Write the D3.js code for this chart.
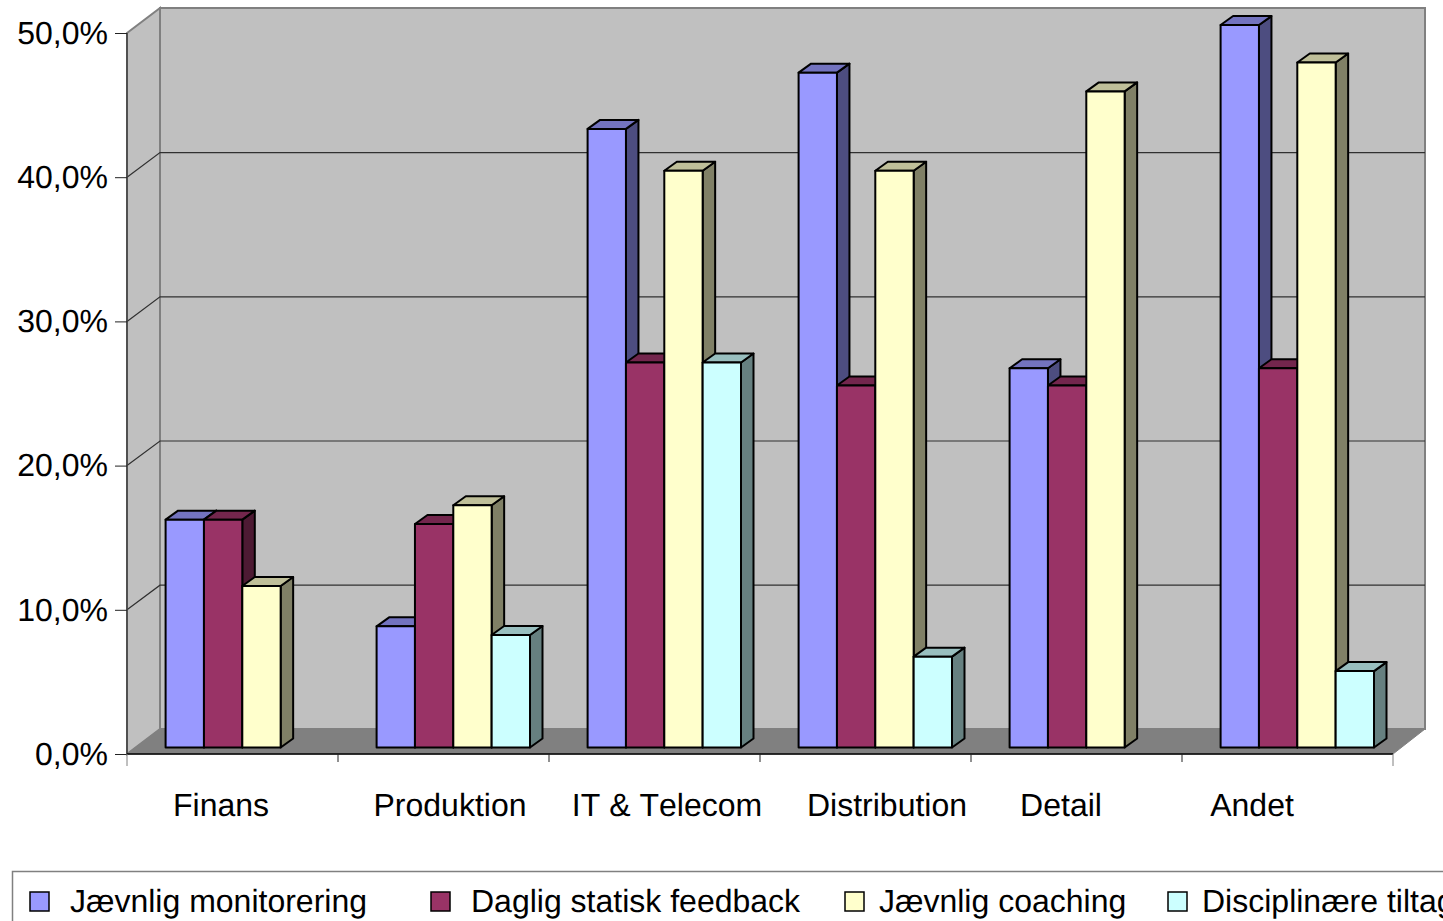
<!DOCTYPE html>
<html>
<head>
<meta charset="utf-8">
<script src="https://cdn.jsdelivr.net/npm/d3@7"></script>
<style>
html,body{margin:0;padding:0;background:#fff;overflow:hidden}
svg{display:block}
text{font-family:"Liberation Sans",Arial,sans-serif;font-size:32px;fill:#000;text-rendering:geometricPrecision;font-kerning:none}
</style>
</head>
<body>
<script>
// Share of respondents per sector and follow-up method
const categories = ["Finans", "Produktion", "IT & Telecom", "Distribution", "Detail", "Andet"];
const seriesNames = ["Jævnlig monitorering", "Daglig statisk feedback", "Jævnlig coaching", "Disciplinære tiltag"];
const monitorering = [15.8, 8.4, 42.9, 46.8, 26.3, 50.1];
const feedback = [15.8, 15.5, 26.7, 25.1, 25.1, 26.3];
const coaching = [11.2, 16.8, 40.0, 40.0, 45.5, 47.5];
const tiltag = [0, 7.8, 26.7, 6.3, 0, 5.3];
const seriesValues = [monitorering, feedback, coaching, tiltag];
const yTicks = [0, 10, 20, 30, 40, 50];
const faceColors = ["#9999ff", "#993366", "#ffffcc", "#ccffff"];
const topColors = ["#7373bf", "#73264d", "#bfbf99", "#99bfbf"];
const sideColors = ["#4d4d80", "#4d1a33", "#808066", "#668080"];
const legendX = [30, 431, 845, 1168];
const legendTextX = [70, 471, 879, 1202];
const labelCenters = [221, 450, 667, 887, 1061, 1252];

const W = 1443, H = 921;
const depthX = 33, depthY = 25;      // wall depth of the plot box
const barDX = 12.5, barDY = 9;       // depth of each column
const barLift = 6.5;                 // columns sit mid-floor, above the front edge

const x = d3.scaleBand().domain(categories).range([127, 1393]);
const y = d3.scaleLinear().domain([0, 50]).range([754, 33]);
const barX = d3.scaleBand().domain(d3.range(4)).range([38.6, 192]);

const svg = d3.select("body").append("svg").attr("width", W).attr("height", H);
const poly = pts => pts.map(p => p.join(",")).join(" ");

const x0 = x.range()[0], x1 = x.range()[1];
const yB = y(0), yT = y(50);

// Back wall, side wall, floor
svg.append("polygon").attr("points", poly([[x0 + depthX, yT - depthY], [x1 + depthX - 1, yT - depthY], [x1 + depthX - 1, yB - depthY], [x0 + depthX, yB - depthY]]))
  .attr("fill", "#c0c0c0").attr("stroke", "#808080").attr("stroke-width", 2);
svg.append("polygon").attr("points", poly([[x0, yT], [x0 + depthX, yT - depthY], [x0 + depthX, yB - depthY], [x0, yB]]))
  .attr("fill", "#c0c0c0").attr("stroke", "#808080").attr("stroke-width", 2);
svg.append("polygon").attr("points", poly([[x0, yB], [x0 + depthX, yB - depthY], [x1 + depthX - 1, yB - depthY], [x1, yB]]))
  .attr("fill", "#808080").attr("stroke", "#808080");

// Gridlines follow the side wall and run along the back wall
const inner = yTicks.filter(t => t > 0 && t < 50);
svg.append("g").selectAll("polyline").data(inner).join("polyline")
  .attr("points", d => poly([[x0, y(d)], [x0 + depthX, y(d) - depthY + 0.4], [x1 + depthX - 1, y(d) - depthY + 0.4]]))
  .attr("fill", "none").attr("stroke", "#303030").attr("stroke-width", 1.2);

// Axes
const yAxis = d3.axisLeft(y).tickValues(yTicks).tickSize(12).tickPadding(7)
  .tickFormat(d => d3.format(".1f")(d).replace(".", ",") + "%");
const yG = svg.append("g").attr("transform", `translate(${x0},0)`).call(yAxis);
yG.select(".domain").attr("stroke", "#404040").attr("stroke-width", 1.5).attr("d", `M0,${yT}V${yB}`);
yG.selectAll(".tick line").attr("stroke", "#222");
yG.selectAll("text").attr("font-size", 32).attr("font-family", "Liberation Sans").attr("fill", "#000");

svg.append("line").attr("x1", x0).attr("x2", x1).attr("y1", yB).attr("y2", yB).attr("stroke", "#000").attr("stroke-width", 1.5);
const tickXs = categories.map(c => x(c)).concat([x1]);
svg.append("g").selectAll("line").data(tickXs).join("line")
  .attr("x1", d => d).attr("x2", d => d).attr("y1", yB).attr("y2", (d, i) => (i === 0 || i === 6) ? yB + 12 : yB + 8)
  .attr("stroke", (d, i) => (i === 0 || i === 6) ? "#808080" : "#222").attr("stroke-width", 1);

// Columns, back to front within each group
categories.forEach((cat, c) => {
  seriesValues.forEach((vals, s) => {
    const v = vals[c];
    if (!v) return;
    const l = x(cat) + barX(s), r = l + barX.bandwidth();
    const t = y(v) - barLift, b = yB - barLift;
    const g = svg.append("g").attr("stroke", "#000").attr("stroke-width", 2).attr("stroke-linejoin", "round");
    g.append("polygon").attr("points", poly([[r, t], [r + barDX, t - barDY], [r + barDX, b - barDY], [r, b]])).attr("fill", sideColors[s]);
    g.append("polygon").attr("points", poly([[l, t], [l + barDX, t - barDY], [r + barDX, t - barDY], [r, t]])).attr("fill", topColors[s]);
    g.append("rect").attr("x", l).attr("y", t).attr("width", r - l).attr("height", b - t).attr("fill", faceColors[s]);
  });
});

// Category labels
svg.append("g").selectAll("text").data(categories).join("text")
  .attr("x", (d, i) => labelCenters[i]).attr("y", 816).attr("text-anchor", "middle").text(d => d);

// Legend box runs past the right edge of the page
svg.append("rect").attr("x", 12.5).attr("y", 871.5).attr("width", 1500).attr("height", 100)
  .attr("fill", "#fff").attr("stroke", "#808080").attr("stroke-width", 1.5);
const items = svg.append("g").selectAll("g").data(seriesNames).join("g");
items.append("rect").attr("x", (d, i) => legendX[i]).attr("y", 892).attr("width", 19).attr("height", 19)
  .attr("fill", (d, i) => faceColors[i]).attr("stroke", "#000").attr("stroke-width", 1.5);
items.append("text").attr("x", (d, i) => legendTextX[i]).attr("y", 912).text(d => d);
</script>
</body>
</html>
